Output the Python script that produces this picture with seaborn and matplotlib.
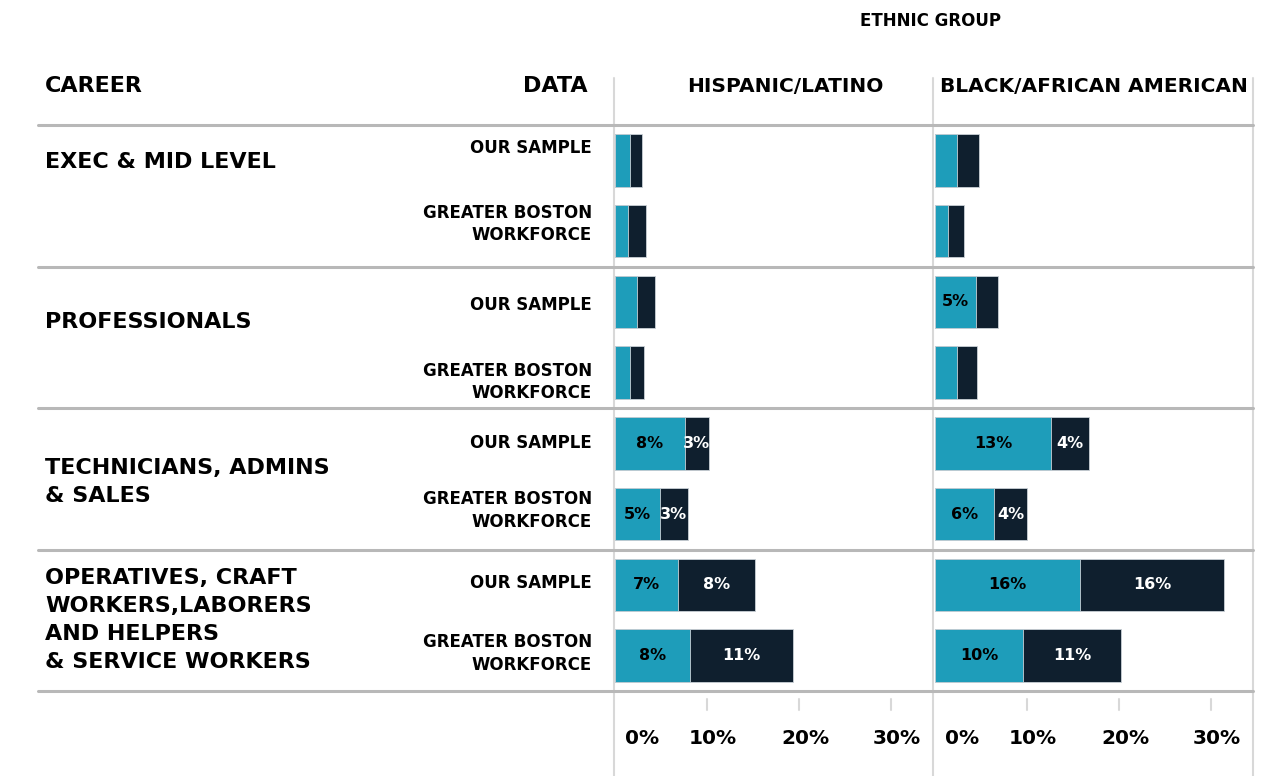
import numpy as np
import pandas as pd
import matplotlib
matplotlib.use("Agg")
import matplotlib.pyplot as plt
import matplotlib.transforms as mtransforms
from matplotlib.lines import Line2D
import seaborn as sns

# chart data (percent of each group)
careers = ["EXEC & MID LEVEL", "PROFESSIONALS", "TECHNICIANS, ADMINS\n& SALES",
           "OPERATIVES, CRAFT\nWORKERS,LABORERS\nAND HELPERS\n& SERVICE WORKERS"]
sources = ["OUR SAMPLE", "GREATER BOSTON\nWORKFORCE"]
groups = ["HISPANIC/LATINO", "BLACK/AFRICAN AMERICAN"]
hispanic_light = [1.6, 1.4, 2.4, 1.6, 7.6, 4.9, 6.8, 8.1]
hispanic_dark = [1.3, 2.0, 2.0, 1.5, 2.6, 3.0, 8.4, 11.2]
black_light = [2.4, 1.4, 4.5, 2.4, 12.6, 6.4, 15.8, 9.6]
black_dark = [2.4, 1.7, 2.4, 2.2, 4.1, 3.6, 15.6, 10.6]
xticks = [0, 10, 20, 30]
xtick_labels = ["0%", "10%", "20%", "30%"]

LIGHT = "#1e9dba"
DARK = "#0f1f2e"
LINE = "#b8b8b8"
VLINE = "#d8d8d8"
W, H = 1268, 776
PX_PER_PCT = 9.2

sns.set_theme(style="white")
plt.rcParams["font.family"] = ["DejaVu Sans"]
plt.rcParams["font.weight"] = "bold"
plt.rcParams["text.color"] = "black"

fig = plt.figure(figsize=(W / 100, H / 100), dpi=100)
fig.patch.set_facecolor("white")


def fx(x):
    return x / W


def fy(y):
    return 1 - y / H


rows = [f"{c}|{s}" for c in careers for s in sources]

axes = []
for i, (lefts, rights) in enumerate([(hispanic_light, hispanic_dark), (black_light, black_dark)]):
    x0 = 615 + i * 320
    width = 318
    ax = fig.add_axes([fx(x0), fy(691), fx(width), 566 / H])
    df = pd.DataFrame({"row": rows, "light": lefts, "dark": rights})
    df["total"] = df["light"] + df["dark"]
    sns.barplot(data=df, x="total", y="row", order=rows, orient="h", color=DARK,
                saturation=1, width=0.745, errorbar=None, ax=ax,
                edgecolor="#c9d0d6", linewidth=0.6)
    sns.barplot(data=df, x="light", y="row", order=rows, orient="h", color=LIGHT,
                saturation=1, width=0.745, errorbar=None, ax=ax,
                edgecolor="#c9d0d6", linewidth=0.6)
    ax.set_xlim(0, width / PX_PER_PCT)
    ax.set_ylim(7.5, -0.5)
    ax.set_xlabel("")
    ax.set_ylabel("")
    ax.set_yticks([])
    ax.set_xticks([])
    for sp in ax.spines.values():
        sp.set_visible(False)
    ax.patch.set_alpha(0)

    # segment labels (small segments stay unlabelled)
    for r, (a, b) in enumerate(zip(lefts, rights)):
        if a >= 2.5:
            ax.text(a / 2, r, f"{int(a + 0.5)}%", ha="center", va="center",
                    color="black", fontsize=11.5, fontweight="bold")
        if b >= 2.5:
            ax.text(a + b / 2, r, f"{int(b + 0.5)}%", ha="center", va="center",
                    color="white", fontsize=11.5, fontweight="bold")

    # tick marks and labels below the table
    tr = mtransforms.blended_transform_factory(ax.transData, fig.transFigure)
    for t, lab in zip(xticks, xtick_labels):
        if t > 0:
            ax.add_line(Line2D([t, t], [fy(699), fy(710)], transform=tr, color=VLINE,
                               lw=1.5, clip_on=False))
        off = 10 if t == 0 else 6
        ax.text(t, fy(738), lab, transform=tr + mtransforms.ScaledTranslation(off / 100, 0, fig.dpi_scale_trans),
                ha="left" if t == 0 else "center", va="center", fontsize=14.5,
                fontweight="bold", color="black")
    axes.append(ax)

# table lines
for x in [614, 933, 1253]:
    fig.add_artist(Line2D([fx(x), fx(x)], [fy(78), 0], color=VLINE, lw=1.5))
row_tr = mtransforms.blended_transform_factory(fig.transFigure, axes[0].transData)
for yb in [-0.5, 1.5, 3.5, 5.5, 7.5]:
    fig.add_artist(Line2D([fx(38), fx(1253)], [yb, yb], transform=row_tr, color=LINE, lw=2.2))

# headers
fig.text(fx(930), fy(21), "ETHNIC GROUP", ha="center", va="center", fontsize=12)
fig.text(fx(45), fy(86), "CAREER", ha="left", va="center", fontsize=16)
fig.text(fx(588), fy(86), "DATA", ha="right", va="center", fontsize=16)
fig.text(fx(785), fy(87), groups[0], ha="center", va="center", fontsize=14.5)
fig.text(fx(1094), fy(87), groups[1], ha="center", va="center", fontsize=14.5)

# row labels
career_rows = [0.02, 2.28, 4.55, 6.5]
for c, yr in zip(careers, career_rows):
    fig.text(fx(45), yr, c, transform=row_tr, ha="left", va="center", fontsize=16,
             linespacing=1.5)
source_shift = [-0.17, -0.1, 0.04, 0.13, 0.0, -0.05, -0.03, -0.03]
for r, row in enumerate(rows):
    src = row.split("|")[1]
    fig.text(fx(592), r + source_shift[r], src, transform=row_tr, ha="right", va="center",
             fontsize=12, linespacing=1.3)

fig.savefig("out.png", dpi=100, facecolor="white")
